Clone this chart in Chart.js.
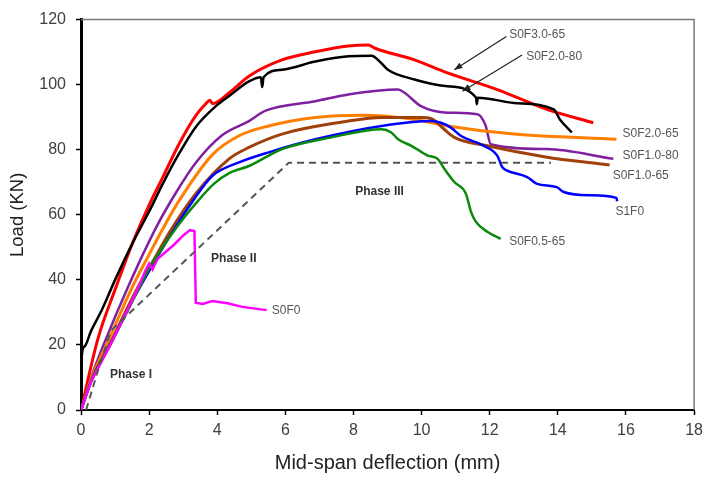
<!DOCTYPE html>
<html>
<head>
<meta charset="utf-8">
<title>Load - deflection</title>
<script src="https://cdn.jsdelivr.net/npm/chart.js@4/dist/chart.umd.min.js"></script>
<style>
    body { margin: 0; background: #ffffff; }
    #wrap { width: 709px; height: 478px; }
</style>
</head>
<body>
<div id="wrap"><canvas id="loadChart" width="709" height="478"></canvas></div>
<script>
// Load vs mid-span deflection curves

// S0F3.0-65 (red)
const s0f30_65_x = [0, 0.5, 1.0, 1.5, 2.0, 2.4, 2.89, 3.37, 3.67, 3.78, 3.86, 4.35, 4.93, 5.9, 6.88, 7.85, 8.43, 8.63, 9.79, 10.76, 12.22, 13.68, 15.04];
const s0f30_65_y = [0, 22, 37, 51, 63, 71.5, 82, 90.5, 94.2, 95.2, 94.2, 97.5, 102.6, 107.6, 110.1, 111.9, 112.2, 111.2, 107.6, 103.6, 98.5, 92.4, 88.3];

// S0F2.0-80 (black)
const s0f20_80_x = [0, 0.01, 0.1, 0.3, 0.6, 1.0, 1.5, 2.0, 2.4, 2.89, 3.37, 3.96, 4.35, 4.93, 5.28, 5.32, 5.36, 5.9, 6.88, 7.85, 8.53, 8.82, 9.01, 9.79, 10.76, 11.6, 11.62, 11.65, 12.71, 13.88, 14.06, 14.41];
const s0f20_80_y = [0, 15.2, 19.5, 24.4, 30.5, 40, 51, 61, 69.5, 79, 87, 93.4, 96.5, 101, 102.3, 99.3, 102.3, 104.6, 107.1, 108.7, 108.9, 106.6, 104.6, 101.6, 99.5, 96, 94, 96, 94.4, 92.4, 89.3, 85.3];

// S0F1.0-80 (purple)
const s0f10_80_x = [0, 0.3, 0.7, 1.37, 2.2, 2.8, 3.37, 4.15, 4.93, 5.42, 6.88, 7.85, 9.31, 9.5, 9.98, 10.76, 11.64, 11.88, 12.03, 13.68, 15.63];
const s0f10_80_y = [0, 10, 21, 37.6, 56, 67, 76, 84.5, 88.8, 92, 94.9, 97, 98.5, 97.5, 93.4, 91.4, 90.9, 87.4, 81.7, 80.2, 77.2];

// S0F2.0-65 (orange)
const s0f20_65_x = [0, 0.3, 0.79, 1.47, 2.01, 2.39, 2.89, 3.86, 4.64, 5.51, 6.88, 8.33, 9.79, 10.76, 12.71, 15.72];
const s0f20_65_y = [0, 9.5, 21, 37, 48, 55.5, 64.5, 78.5, 84.3, 87.3, 89.9, 90.6, 89.3, 87.3, 84.8, 83.2];

// S0F1.0-65 (brown)
const s0f10_65_x = [0, 0.3, 0.88, 1.61, 2.21, 2.59, 3.37, 4.35, 4.93, 5.9, 7.85, 8.82, 9.98, 10.3, 10.66, 10.96, 11.93, 13.68, 15.52];
const s0f10_65_y = [0, 9, 21, 36.5, 47.5, 54.5, 66.5, 77.2, 80.7, 84.8, 88.8, 89.9, 89.9, 89.5, 86.3, 83.8, 81.2, 77.7, 75.3];

// S1F0 (blue)
const s1f0_x = [0, 0.3, 0.88, 1.61, 2.21, 2.7, 3.3, 3.86, 4.64, 5.51, 6.88, 8.82, 10.28, 10.57, 10.86, 11.15, 11.83, 12.22, 12.37, 12.51, 13.1, 13.39, 13.97, 14.17, 14.94, 15.72, 15.74];
const s1f0_y = [0, 8.8, 20.5, 35.5, 46.5, 55, 64.5, 72, 76.1, 79.2, 83.2, 87.3, 88.8, 88.3, 86.8, 84.3, 81.2, 78.2, 74.6, 73.6, 71.6, 69.5, 68.5, 67, 66, 65.2, 64.2];

// S0F0.5-65 (green)
const s0f05_65_x = [0, 0.3, 0.88, 1.61, 1.95, 2.3, 2.83, 3.37, 3.9, 4.35, 4.93, 5.51, 5.9, 7.35, 8.82, 9.11, 9.31, 9.7, 10.18, 10.47, 10.67, 10.96, 11.3, 11.45, 11.59, 11.93, 12.32];
const s0f05_65_y = [0, 8.8, 20.5, 35.5, 42.5, 48.5, 56.5, 63.5, 69.5, 72.8, 75, 78.2, 80.2, 83.8, 86.3, 85.3, 83.2, 81.2, 78.2, 77.2, 74.1, 70.1, 66.5, 60.9, 57.9, 54.8, 52.6];

// S0F0 (magenta)
const s0f0_x = [0, 0.3, 0.88, 1.61, 1.9, 2.0, 2.1, 2.25, 2.73, 3.02, 3.2, 3.33, 3.37, 3.57, 3.86, 4.3, 4.74, 5.45];
const s0f0_y = [0, 8.8, 20.5, 36, 43, 45, 43.2, 46.5, 50.8, 53.8, 55.3, 55, 33, 32.6, 33.5, 32.8, 31.7, 30.7];

// idealised phase line (dashed)
const phase_x = [0.15, 0.5, 0.88, 6.1, 13.8];
const phase_y = [0, 12.2, 24.4, 76, 76];

// axis ticks
const xTicks = [0, 2, 4, 6, 8, 10, 12, 14, 16, 18];
const yTicks = [0, 20, 40, 60, 80, 100, 120];

function toPoints(xs, ys) {
    return xs.map((x, i) => ({ x: x, y: ys[i] }));
}

function curve(label, xs, ys, color, width) {
    return {
        label: label,
        data: toPoints(xs, ys),
        borderColor: color,
        backgroundColor: color,
        borderWidth: width,
        pointRadius: 0,
        cubicInterpolationMode: 'monotone',
        fill: false
    };
}

const datasets = [
    Object.assign(curve('Phases', phase_x, phase_y, '#555555', 2), { borderDash: [7, 5], cubicInterpolationMode: 'default', tension: 0 }),
    Object.assign(curve('S0F0', s0f0_x, s0f0_y, '#ff00ff', 2.5), { cubicInterpolationMode: 'default', tension: 0 }),
    curve('S0F0.5-65', s0f05_65_x, s0f05_65_y, '#0a8a0a', 2.5),
    curve('S1F0', s1f0_x, s1f0_y, '#0000ff', 2.5),
    curve('S0F1.0-65', s0f10_65_x, s0f10_65_y, '#a0400a', 3),
    curve('S0F2.0-65', s0f20_65_x, s0f20_65_y, '#ff8000', 3),
    curve('S0F1.0-80', s0f10_80_x, s0f10_80_y, '#8020a0', 2.5),
    curve('S0F2.0-80', s0f20_80_x, s0f20_80_y, '#000000', 2.5),
    curve('S0F3.0-65', s0f30_65_x, s0f30_65_y, '#ff0000', 3)
];

// text labels and arrows, placed in data units
const curveLabels = [
    { text: 'S0F3.0-65', x: 12.57, y: 115.4 },
    { text: 'S0F2.0-80', x: 13.07, y: 108.7 },
    { text: 'S0F2.0-65', x: 15.9, y: 85.0 },
    { text: 'S0F1.0-80', x: 15.9, y: 78.3 },
    { text: 'S0F1.0-65', x: 15.61, y: 71.9 },
    { text: 'S1F0', x: 15.69, y: 60.9 },
    { text: 'S0F0.5-65', x: 12.57, y: 51.8 },
    { text: 'S0F0', x: 5.6, y: 30.5 }
];
const phaseLabels = [
    { text: 'Phase I', x: 0.85, y: 11.0 },
    { text: 'Phase II', x: 3.82, y: 46.6 },
    { text: 'Phase III', x: 8.05, y: 67.0 }
];
const arrows = [
    { x1: 12.49, y1: 114.8, x2: 10.96, y2: 104.6 },
    { x1: 12.95, y1: 109.1, x2: 11.2, y2: 98.0 }
];

const annotatePlugin = {
    id: 'annotate',
    afterDatasetsDraw(chart) {
        const ctx = chart.ctx;
        const xs = chart.scales.x;
        const ys = chart.scales.y;
        const area = chart.chartArea;
        ctx.save();

        // top and right frame
        ctx.strokeStyle = '#7a7a7a';
        ctx.lineWidth = 1.5;
        ctx.beginPath();
        ctx.moveTo(area.left, area.top);
        ctx.lineTo(area.right, area.top);
        ctx.lineTo(area.right, area.bottom);
        ctx.stroke();

        ctx.textAlign = 'left';
        ctx.textBaseline = 'middle';
        ctx.fillStyle = '#555555';
        ctx.font = '12px "Liberation Sans", Arial, sans-serif';
        curveLabels.forEach(l => {
            ctx.fillText(l.text, xs.getPixelForValue(l.x), ys.getPixelForValue(l.y));
        });

        ctx.fillStyle = '#333333';
        ctx.font = 'bold 12px "Liberation Sans", Arial, sans-serif';
        phaseLabels.forEach(l => {
            ctx.fillText(l.text, xs.getPixelForValue(l.x), ys.getPixelForValue(l.y));
        });

        // arrows
        ctx.strokeStyle = '#222222';
        ctx.fillStyle = '#222222';
        ctx.lineWidth = 1.2;
        arrows.forEach(a => {
            const px1 = xs.getPixelForValue(a.x1), py1 = ys.getPixelForValue(a.y1);
            const px2 = xs.getPixelForValue(a.x2), py2 = ys.getPixelForValue(a.y2);
            ctx.beginPath();
            ctx.moveTo(px1, py1);
            ctx.lineTo(px2, py2);
            ctx.stroke();
            const ang = Math.atan2(py2 - py1, px2 - px1);
            const len = 8, half = 3.2;
            ctx.beginPath();
            ctx.moveTo(px2, py2);
            ctx.lineTo(px2 - len * Math.cos(ang) + half * Math.sin(ang), py2 - len * Math.sin(ang) - half * Math.cos(ang));
            ctx.lineTo(px2 - len * Math.cos(ang) - half * Math.sin(ang), py2 - len * Math.sin(ang) + half * Math.cos(ang));
            ctx.closePath();
            ctx.fill();
        });

        ctx.restore();
    }
};

const tickFont = { family: '"Liberation Sans", Arial, sans-serif', size: 16 };

new Chart(document.getElementById('loadChart'), {
    type: 'line',
    data: { datasets: datasets },
    options: {
        responsive: false,
        animation: false,
        layout: { padding: { top: 16, right: 11, left: 0, bottom: 0 } },
        plugins: {
            legend: { display: false },
            tooltip: { enabled: false }
        },
        scales: {
            x: {
                type: 'linear',
                min: 0,
                max: 18,
                afterBuildTicks: s => { s.ticks = xTicks.map(v => ({ value: v })); },
                afterFit: s => { s.height = 68; },
                ticks: { color: '#404040', font: tickFont, padding: 6, maxRotation: 0 },
                grid: { drawOnChartArea: false, drawTicks: true, tickLength: 5, tickColor: '#000', tickWidth: 1.5 },
                border: { display: true, color: '#000', width: 2 },
                title: {
                    display: true,
                    text: 'Mid-span deflection (mm)',
                    color: '#222',
                    font: { family: '"Liberation Sans", Arial, sans-serif', size: 20 },
                    padding: { top: 0, bottom: 3 }
                }
            },
            y: {
                type: 'linear',
                min: 0,
                max: 120,
                afterBuildTicks: s => { s.ticks = yTicks.map(v => ({ value: v })); },
                afterFit: s => { s.width = 81; },
                ticks: { color: '#404040', font: tickFont, padding: 10 },
                grid: { drawOnChartArea: false, drawTicks: true, tickLength: 5, tickColor: '#000', tickWidth: 1.5 },
                border: { display: true, color: '#000', width: 3 },
                title: {
                    display: true,
                    text: 'Load (KN)',
                    color: '#222',
                    font: { family: '"Liberation Sans", Arial, sans-serif', size: 18.5 },
                    padding: { top: 7, bottom: 0 }
                }
            }
        }
    },
    plugins: [annotatePlugin]
});
</script>
</body>
</html>
